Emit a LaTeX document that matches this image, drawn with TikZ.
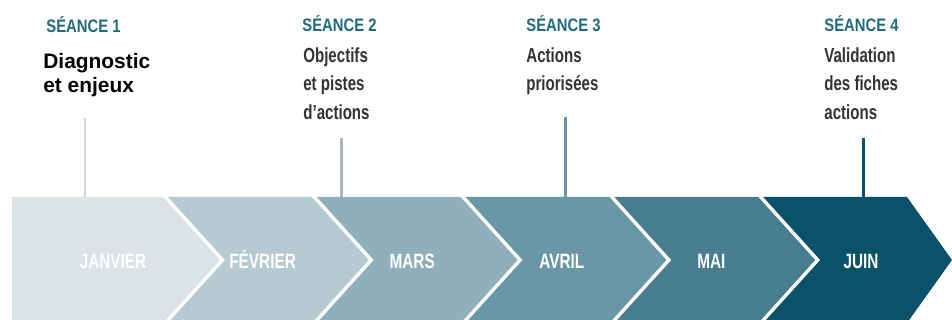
\documentclass[tikz,border=0pt]{standalone}
\usepackage{fontspec}
\setmainfont{Liberation Sans}
\newfontfamily\narrowfont[FakeStretch=0.82]{Liberation Sans}
\newfontfamily\condfont[FakeStretch=0.74]{Liberation Sans}
\usetikzlibrary{positioning, calc}
\definecolor{mois1}{HTML}{DBE3E6}
\definecolor{mois2}{HTML}{B5CAD1}
\definecolor{mois3}{HTML}{8FB0BB}
\definecolor{mois4}{HTML}{6A97A6}
\definecolor{mois5}{HTML}{487D8F}
\definecolor{mois6}{HTML}{0A5269}
\definecolor{seancecol}{HTML}{1F6B7B}
\definecolor{desccol}{HTML}{333333}
\tikzstyle{seance} = [inner sep=0, anchor=base west, text=seancecol, font=\narrowfont\bfseries\fontsize{10.3pt}{12pt}\selectfont]
\tikzstyle{desc} = [inner sep=0, anchor=north west, align=left, text=desccol, font=\condfont\bfseries\fontsize{11.6pt}{16.4pt}\selectfont]
\tikzstyle{mois} = [inner sep=0, anchor=base, text=white, text height=0.72em, text depth=0pt, font=\condfont\bfseries\fontsize{11.8pt}{12pt}\selectfont]
\tikzstyle{tick} = [line width=1.7pt]

\begin{document}
\begin{tikzpicture}[x=0.02cm, y=-0.02cm]
            \useasboundingbox (0,0) rectangle (952,320);

            % The chevrons
            \foreach \m/\col [count=\i from 0] in {JANVIER/mois1, FÉVRIER/mois2, MARS/mois3, AVRIL/mois4, MAI/mois5, JUIN/mois6} {
                \pgfmathsetmacro\tr{163+148.8*\i}
                \pgfmathsetmacro\lft{\i==0 ? 12 : 19.2+148.8*\i}
                \pgfmathsetmacro\notch{\i==0 ? 0 : 57}
                \pgfmathsetmacro\dep{\i==5 ? 45 : 57}
                \fill[\col] (\lft,197) -- (\tr,197) -- ({\tr+\dep},260) -- (\tr,323)
                    -- (\lft,323) -- ({\lft+\notch},260) -- cycle;
                \node[mois] (m\i) at ({113+149.6*\i},269) {\m};
            }

            % The sessions
            \node[seance] (s1) at (46,33) {SÉANCE 1};
            \node[seance] (s2) at (302,32) {SÉANCE 2};
            \node[seance] (s3) at (526,32) {SÉANCE 3};
            \node[seance] (s4) at (824,32) {SÉANCE 4};

            \node[inner sep=0, anchor=north west, align=left, font=\bfseries\fontsize{11.9pt}{13.6pt}\selectfont]
                (d1) at (43,53) {Diagnostic\\et enjeux};
            \node[desc] (d2) at (303,47) {Objectifs\\et pistes\\d’actions};
            \node[desc] (d3) at (526,47) {Actions\\priorisées};
            \node[desc] (d4) at (824,47) {Validation\\des fiches\\actions};

            % The ticks
            \coordinate (top) at (0,197);
            \coordinate (t1) at (85,118);
            \coordinate (t2) at (341,138);
            \coordinate (t3) at (565,117);
            \coordinate (t4) at (863,138);
            \draw[tick, color=mois1!95!black] (t1) -- (t1 |- top);
            \draw[tick, color=mois2!92!black] (t2) -- (t2 |- top);
            \draw[tick, color=mois4] (t3) -- (t3 |- top);
            \draw[tick, color=mois6] (t4) -- (t4 |- top);
        \end{tikzpicture}
\end{document}
